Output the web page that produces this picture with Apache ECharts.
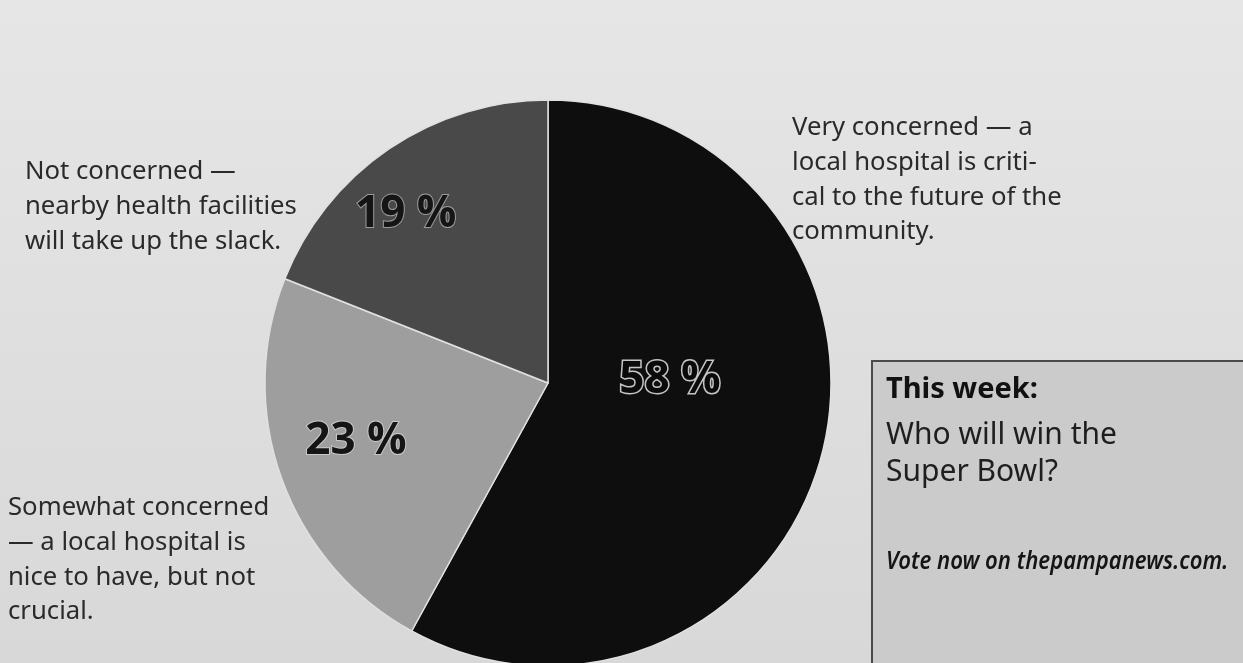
<!DOCTYPE html>
<html><head><meta charset="utf-8">
<script src="https://cdn.jsdelivr.net/npm/echarts@6/dist/echarts.min.js"></script>
<style>html,body{margin:0;padding:0;background:#dedede}#c{width:1243px;height:663px}</style>
</head><body><div id="c"></div>
<script>
const categories = ['Very concerned', 'Somewhat concerned', 'Not concerned'];
const values = [58, 23, 19];
const valueLabels = ['58 %', '23 %', '19 %'];
const annotations = [
  ['Very concerned — a', 'local hospital is criti-', 'cal to the future of the', 'community.'],
  ['Somewhat concerned', '— a local hospital is', 'nice to have, but not', 'crucial.'],
  ['Not concerned —', 'nearby health facilities', 'will take up the slack.']
];
const boxTitle = 'This week:';
const boxQuestion = ['Who will win the', 'Super Bowl?'];
const boxCall = 'Vote now on thepampanews.com.';

const sliceColors = ['#0e0e0e', '#9e9e9e', '#494949'];
const labelStyles = [
  {offset: [-18, -38], color: '#0a0a0a', textBorderColor: '#c4c4c4', textBorderWidth: 3},
  {offset: [-56, 10], color: '#151515', textBorderColor: '#c8c8c8', textBorderWidth: 2},
  {offset: [-61, -49], color: '#151515', textBorderColor: '#9a9a9a', textBorderWidth: 2}
];
const annoPos = [[792, 128], [8, 508], [25, 172]];

const chart = echarts.init(document.getElementById('c'));
const graphics = [];
annotations.forEach((lines, i) => {
  lines.forEach((t, j) => {
    graphics.push({type: 'text', x: annoPos[i][0], y: annoPos[i][1] + j * 34.7,
      style: {text: t, font: '25.7px "Noto Sans"', fill: '#2a2a2a', verticalAlign: 'middle'}});
  });
});
graphics.push({type: 'rect', shape: {x: 872, y: 361, width: 400, height: 330},
  style: {fill: '#cbcbcb', stroke: '#4a4a4a', lineWidth: 2}});
graphics.push({type: 'text', x: 886, y: 390,
  style: {text: boxTitle, font: 'bold 29px "Noto Sans"', fill: '#111', verticalAlign: 'middle'}});
boxQuestion.forEach((t, j) => {
  graphics.push({type: 'text', x: 886, y: 435 + j * 37,
    style: {text: t, font: '30px "Noto Sans"', fill: '#1e1e1e', verticalAlign: 'middle'}});
});
graphics.push({type: 'text', x: 886, y: 562, scaleX: 0.85,
  style: {text: boxCall, font: 'italic 600 26px "Noto Sans"', fill: '#151515', verticalAlign: 'middle'}});

chart.setOption({
  backgroundColor: {type: 'linear', x: 0, y: 0, x2: 0, y2: 1,
    colorStops: [{offset: 0, color: '#e6e6e6'}, {offset: 1, color: '#d8d8d8'}]},
  animation: false,
  series: [{
    type: 'pie',
    center: [548, 383],
    radius: 283,
    startAngle: 90,
    clockwise: true,
    avoidLabelOverlap: false,
    itemStyle: {borderColor: '#e0e0e0', borderWidth: 1.5},
    label: {show: true, position: 'inside', fontFamily: '"Open Sans"', fontWeight: 'bold', fontSize: 44},
    labelLine: {show: false},
    data: categories.map((c, i) => ({
      name: c, value: values[i],
      itemStyle: {color: sliceColors[i]},
      label: Object.assign({formatter: valueLabels[i]}, labelStyles[i])
    }))
  }],
  graphic: graphics
});
</script></body></html>
